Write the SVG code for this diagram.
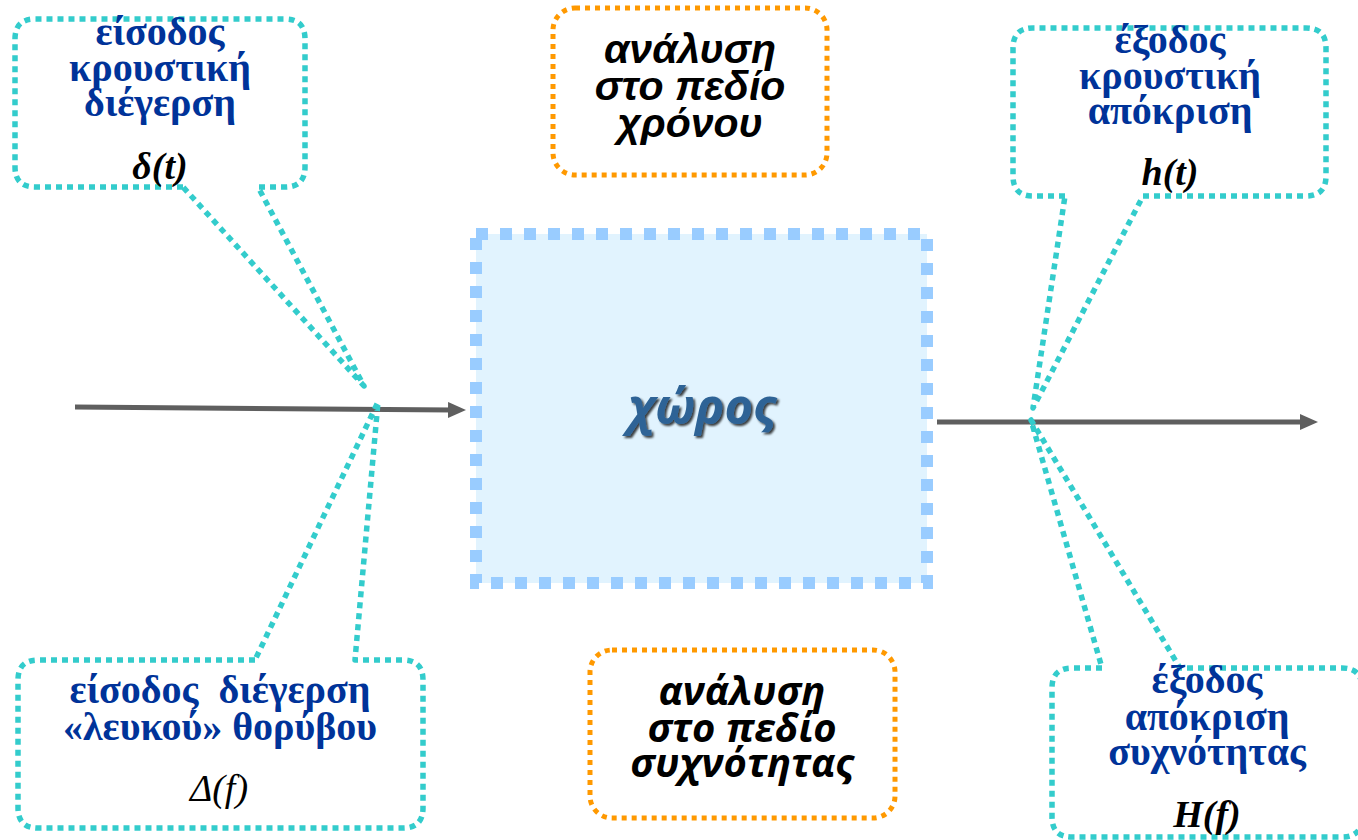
<svg xmlns="http://www.w3.org/2000/svg" width="1358" height="840" viewBox="0 0 1358 840">
<style>
.callout{fill:none;stroke:#33cccc;stroke-width:5.5;stroke-dasharray:6 5;stroke-linejoin:round}
.orange{fill:none;stroke:#ff9900;stroke-width:5;stroke-dasharray:5 5}
.ctext{font-family:"Liberation Serif","Times New Roman",serif;font-weight:bold;fill:#003399;font-size:40px;text-anchor:middle}
.math{font-family:"Liberation Serif","Times New Roman",serif;font-style:italic;fill:#000;font-size:38px;text-anchor:middle}
.otext1{font-family:"Liberation Sans",Arial,sans-serif;font-weight:bold;font-style:italic;fill:#000;font-size:41px;text-anchor:middle}
.otext2{font-family:"Open Sans","Liberation Sans",sans-serif;font-weight:bold;font-style:italic;fill:#000;font-size:40px;text-anchor:middle}
.arrow{stroke:#5f5f5f;stroke-width:5;fill:none}
</style>
<defs>
<marker id="ah" viewBox="0 0 18 16" refX="4" refY="8" markerWidth="18" markerHeight="16" markerUnits="userSpaceOnUse" orient="auto">
<path d="M0,0 L18,8 L0,16 Z" fill="#5f5f5f"/>
</marker>
<filter id="sh" x="-20%" y="-30%" width="140%" height="160%">
<feDropShadow dx="2" dy="2" stdDeviation="1.2" flood-color="#000" flood-opacity="0.75"/>
</filter>
</defs>
<rect width="1358" height="840" fill="#fff"/>
<g id="connectors">
<line class="arrow" x1="75" y1="407" x2="452" y2="410" marker-end="url(#ah)"/>
<line class="arrow" x1="937" y1="422" x2="1304" y2="422" marker-end="url(#ah)"/>
</g>
<g id="space">
<rect x="476" y="234" width="451" height="349" fill="#e1f3fe" stroke="#99ccff" stroke-width="12" stroke-dasharray="12 12"/>
<text x="702" y="424" font-family="'Open Sans','Liberation Sans',sans-serif" font-weight="bold" font-style="italic" font-size="49" fill="#2f6496" text-anchor="middle" filter="url(#sh)">χώρος</text>
</g>
<g id="time-analysis">
<rect class="orange" x="553" y="8" width="274" height="167" rx="22"/>
<text class="otext1" x="690" y="63">ανάλυση</text>
<text class="otext1" x="690" y="100">στο πεδίο</text>
<text class="otext1" x="690" y="137">χρόνου</text>
</g>
<g id="freq-analysis">
<rect class="orange" x="590" y="650" width="305" height="168" rx="22"/>
<text class="otext2" x="742" y="705">ανάλυση</text>
<text class="otext2" x="742" y="742">στο πεδίο</text>
<text class="otext2" x="742" y="777">συχνότητας</text>
</g>
<g id="input-impulse">
<path class="callout" d="M183,187 L35,187 Q15,187 15,167 L15,39 Q15,19 35,19 L285,19 Q305,19 305,39 L305,167 Q305,187 285,187 L258,187 L364,386 Z"/>
<text class="ctext" x="160" y="45">είσοδος</text>
<text class="ctext" x="160" y="81">κρουστική</text>
<text class="ctext" x="160" y="116">διέγερση</text>
<text class="math" x="160" y="179" font-weight="bold">δ(t)</text>
</g>
<g id="output-impulse">
<path class="callout" d="M1065,196 L1033,196 Q1013,196 1013,176 L1013,48 Q1013,28 1033,28 L1306,28 Q1326,28 1326,48 L1326,176 Q1326,196 1306,196 L1143,196 L1033,408 Z"/>
<text class="ctext" x="1170" y="53">έξοδος</text>
<text class="ctext" x="1170" y="89">κρουστική</text>
<text class="ctext" x="1170" y="124">απόκριση</text>
<text class="math" x="1170" y="185" font-weight="bold">h(t)</text>
</g>
<g id="input-noise">
<path class="callout" d="M255,660 L38,660 Q18,660 18,680 L18,808 Q18,828 38,828 L403,828 Q423,828 423,808 L423,680 Q423,660 403,660 L355,660 L378,402 Z"/>
<text class="ctext" x="220" y="703" font-size="41" style="white-space:pre">είσοδος  διέγερση</text>
<text class="ctext" x="220" y="740" font-size="41">«λευκού» θορύβου</text>
<text class="math" x="219" y="801">Δ(f)</text>
</g>
<g id="output-freq">
<path class="callout" d="M1102,668 L1072,668 Q1052,668 1052,688 L1052,817 Q1052,837 1072,837 L1342,837 Q1362,837 1362,817 L1362,688 Q1362,668 1342,668 L1180,668 L1031,420 Z"/>
<text class="ctext" x="1207" y="693">έξοδος</text>
<text class="ctext" x="1207" y="730">απόκριση</text>
<text class="ctext" x="1207" y="765">συχνότητας</text>
<text class="math" x="1207" y="827" font-weight="bold">H(f)</text>
</g>
</svg>
